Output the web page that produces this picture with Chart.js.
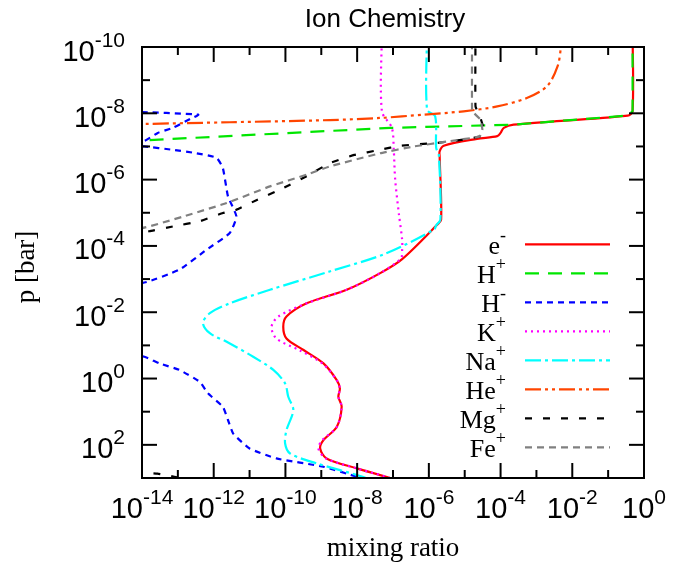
<!DOCTYPE html>
<html><head><meta charset="utf-8">
<script src="https://cdn.jsdelivr.net/npm/chart.js@4/dist/chart.umd.min.js"></script>
<style>html,body{margin:0;padding:0;background:#fff;}#wrap{width:685px;height:567px;}</style>
</head><body>
<div id="wrap"><canvas id="c" width="685" height="567"></canvas></div>
<script>
// ---- axis ticks ----
const xMajorTicks = [1e-14, 1e-12, 1e-10, 1e-8, 1e-6, 1e-4, 1e-2, 1e0];
const xMinorTicks = [1e-13, 1e-11, 1e-9, 1e-7, 1e-5, 1e-3, 1e-1];
const yMajorTicks = [1e-10, 1e-8, 1e-6, 1e-4, 1e-2, 1e0, 1e2];
const yMinorTicks = [1e-9, 1e-7, 1e-5, 1e-3, 1e-1, 1e1, 1e3];
const xTickLabels = ['10^-14', '10^-12', '10^-10', '10^-8', '10^-6', '10^-4', '10^-2', '10^0'];
const yTickLabels = ['10^-10', '10^-8', '10^-6', '10^-4', '10^-2', '10^0', '10^2'];

// ---- species (legend) ----
const speciesBase = ['e', 'H', 'H', 'K', 'Na', 'He', 'Mg', 'Fe'];
const speciesCharge = ['-', '+', '-', '+', '+', '+', '+', '+'];

// ---- series: mixing ratio (x) vs pressure in bar (y) ----
const eMinusX = [4.8e-1, 4.8e-1, 3.5e-1, 2.3e-4, 1.23e-4, 1.0e-4, 8.1e-5, 2.2e-5, 2.6e-6, 2.0e-6, 2.0e-6, 2.2e-6, 1.7e-6, 1.8e-7, 4.4e-8, 5.1e-9, 3.9e-10, 1.07e-10, 8.7e-11, 1.07e-10, 3.2e-10, 1.15e-9, 2.7e-9, 3.3e-9, 3.0e-9, 3.7e-9, 2.7e-9, 1.15e-9, 9.3e-10, 1.4e-9, 9.8e-9, 8.3e-8, 1.26e-7];
const eMinusP = [3.2e-11, 8.7e-9, 1.17e-8, 2.2e-8, 2.75e-8, 3.9e-8, 4.9e-8, 5.9e-8, 9.5e-8, 1.4e-7, 2.0e-7, 1.6e-5, 2.3e-5, 2.5e-4, 6.6e-4, 2.1e-3, 5.4e-3, 1.35e-2, 2.75e-2, 6.2e-2, 1.38e-1, 3.5e-1, 1.12, 2.0, 3.55, 7.1, 29, 72, 129, 257, 513, 1000, 1260];

const hPlusX = [4.8e-1, 4.8e-1, 3.5e-1, 2.3e-4, 8.3e-8, 1.0e-14, 1.0e-15];
const hPlusP = [3.2e-11, 8.7e-9, 1.17e-8, 2.2e-8, 2.75e-8, 6.6e-8, 7.2e-8];

const hMinusX = [1e-20, 1e-20, 6.3e-15, 3.7e-13, 2.2e-13, 7.2e-14, 2.75e-14, 1.17e-14, 5.0e-15, 1e-20, 5.0e-15, 1.17e-14, 7.2e-14, 3.3e-13, 1.2e-12, 1.8e-12, 2.5e-12, 4.3e-12, 2.8e-12, 6.3e-13, 1.1e-13, 1.05e-14, 1e-20, 1e-20, 6.3e-15, 1.17e-14, 3.1e-14, 1.1e-13, 4.1e-13, 6.9e-13, 1.8e-12, 2.5e-12, 3.5e-12, 1.0e-11, 5.6e-11, 1.15e-9, 1.0e-8, 1.6e-8];
const hMinusP = [3.2e-11, 8.7e-9, 9.1e-9, 1.1e-8, 1.48e-8, 2.75e-8, 3.9e-8, 6.8e-8, 8.1e-8, 8.9e-8, 9.8e-8, 1.0e-7, 1.26e-7, 1.6e-7, 2.2e-7, 4.5e-7, 3.2e-6, 1.3e-5, 4.1e-5, 1.3e-4, 5.2e-4, 1.3e-3, 3.2e-3, 1.6e-1, 2.1e-1, 2.2e-1, 3.5e-1, 5.5e-1, 1.26, 2.8, 7.1, 17.8, 46, 129, 257, 457, 933, 1260];

const kPlusX = [4.9e-8, 4.9e-8, 9.3e-8, 1.05e-7, 1.15e-7, 1.45e-7, 1.8e-7, 1.8e-7, 1.66e-7, 4.4e-8, 5.1e-9, 3.9e-10, 6.3e-11, 4.1e-11, 5.6e-11, 2.4e-10, 1.07e-9, 2.7e-9, 3.3e-9, 3.0e-9, 3.7e-9, 2.7e-9, 1.07e-9, 8.3e-10, 1.35e-9, 9.8e-9, 8.3e-8, 1.26e-7];
const kPlusP = [3.2e-11, 8.7e-9, 2.75e-8, 1.26e-7, 1.0e-6, 1.02e-5, 6.6e-5, 1.3e-4, 2.4e-4, 6.6e-4, 2.1e-3, 5.4e-3, 1.35e-2, 2.75e-2, 6.2e-2, 1.38e-1, 3.5e-1, 1.12, 2.0, 3.55, 7.1, 29, 72, 129, 257, 513, 1000, 1260];

const naPlusX = [8.9e-7, 8.9e-7, 1.5e-6, 1.6e-6, 1.9e-6, 2.1e-6, 1.6e-6, 1.4e-6, 6.3e-8, 1.7e-9, 3.7e-11, 2.8e-12, 7.8e-13, 5.0e-13, 7.8e-13, 2.3e-12, 1.26e-11, 4.6e-11, 9.8e-11, 1.2e-10, 1.66e-10, 1.07e-10, 9.8e-11, 1.35e-10, 7.4e-10, 1.5e-8, 2.5e-8];
const naPlusP = [3.2e-11, 7.8e-9, 1.23e-8, 1.1e-7, 1.8e-7, 1.6e-5, 2.4e-5, 3.2e-5, 1.7e-4, 5.9e-4, 2.1e-3, 5.4e-3, 1.07e-2, 2.1e-2, 4.3e-2, 7.8e-2, 2.2e-1, 5.5e-1, 1.41, 3.55, 8.9, 36, 91, 182, 363, 933, 1260];

const hePlusX = [5.0e-3, 4.8e-3, 3.9e-3, 2.0e-3, 5.6e-4, 8.1e-5, 9.3e-6, 7.1e-7, 4.4e-8, 1.7e-9, 2.8e-12, 1.0e-14, 1.0e-15];
const hePlusP = [3.2e-11, 1.0e-10, 3.8e-10, 1.5e-9, 3.4e-9, 6.2e-9, 8.7e-9, 1.1e-8, 1.38e-8, 1.6e-8, 1.86e-8, 2.1e-8, 2.2e-8];

const mgPlusX = [2.0e-5, 2.0e-5, 2.75e-5, 3.4e-5, 2.75e-5, 9.3e-6, 1.7e-6, 1.6e-7, 4.4e-8, 8.3e-9, 1.7e-9, 3.9e-10, 7.1e-11, 1.6e-11, 4.3e-12, 1.8e-12, 4.1e-13, 7.2e-14, 1.6e-14, 6.3e-15, 1e-20, 1e-20, 5.0e-15, 2.7e-14, 7.1e-14, 2.5e-13];
const mgPlusP = [3.2e-11, 6.2e-9, 1.38e-8, 3.1e-8, 4.9e-8, 6.2e-8, 7.8e-8, 9.5e-8, 1.26e-7, 1.8e-7, 3.2e-7, 7.9e-7, 2.0e-6, 4.1e-6, 8.1e-6, 1.02e-5, 1.8e-5, 2.6e-5, 3.6e-5, 4.8e-5, 1e-4, 631, 661, 741, 891, 1260];

const fePlusX = [1.6e-5, 1.6e-5, 1.8e-5, 2.75e-5, 3.1e-5, 2.6e-5, 3.2e-6, 3.8e-7, 4.4e-8, 1.7e-9, 3.9e-10, 3.7e-11, 2.3e-12, 1.4e-13, 1.0e-14, 1e-20];
const fePlusP = [3.2e-11, 7.8e-9, 9.8e-9, 1.55e-8, 3.1e-8, 5.0e-8, 7.1e-8, 1.0e-7, 1.6e-7, 4.0e-7, 7.1e-7, 1.6e-6, 5.1e-6, 1.3e-5, 2.9e-5, 6.3e-5];

const seriesX = [eMinusX, hPlusX, hMinusX, kPlusX, naPlusX, hePlusX, mgPlusX, fePlusX];
const seriesP = [eMinusP, hPlusP, hMinusP, kPlusP, naPlusP, hePlusP, mgPlusP, fePlusP];

// ---- styles ----
const colors = ['#ff0000', '#00e600', '#0000ff', '#ff00ff', '#00ffff', '#ff4500', '#000000', '#808080'];
const dashes = [[], [14, 9], [6, 5], [2, 4], [16, 4, 3, 4], [16, 4, 3, 4, 3, 4], [7, 11], [7, 5]];
const tensions = [0.3, 0, 0.15, 0.3, 0.3, 0.3, 0.1, 0.1];
const supMap = {'-': '\u207B', '+': '\u207A'};

const datasets = speciesBase.map((name, i) => ({
  label: name + supMap[speciesCharge[i]],
  data: seriesX[i].map((v, k) => ({x: v, y: seriesP[i][k]})),
  borderColor: colors[i],
  backgroundColor: colors[i],
  borderDash: dashes[i],
  borderWidth: 2.2,
  pointRadius: 0,
  fill: false,
  tension: tensions[i],
  order: speciesBase.length - i
}));

function splitPow(s) { const p = s.split('^'); return {base: p[0], exp: p[1]}; }
const BASE_FONT = '29px "Liberation Sans", Arial, sans-serif';
const EXP_FONT = '21px "Liberation Sans", Arial, sans-serif';
const SERIF = '"Liberation Serif", "Times New Roman", serif';

function drawPow(ctx, label, x, baseline, align) {
  const {base, exp} = splitPow(label);
  ctx.font = BASE_FONT; const wb = ctx.measureText(base).width;
  ctx.font = EXP_FONT; const we = ctx.measureText(exp).width;
  const total = wb + we;
  let x0 = align === 'center' ? x - total / 2 : x - total;
  ctx.textAlign = 'left'; ctx.textBaseline = 'alphabetic'; ctx.fillStyle = '#000';
  ctx.font = BASE_FONT; ctx.fillText(base, x0, baseline);
  ctx.font = EXP_FONT; ctx.fillText(exp, x0 + wb, baseline - 14);
}

const gnuFrame = {
  id: 'gnuFrame',
  afterDraw(chart) {
    const {ctx, chartArea: a, scales: {x, y}} = chart;
    ctx.save();
    ctx.strokeStyle = '#000'; ctx.lineWidth = 2; ctx.setLineDash([]);
    const seg = (x1, y1, x2, y2) => { ctx.beginPath(); ctx.moveTo(x1, y1); ctx.lineTo(x2, y2); ctx.stroke(); };
    xMajorTicks.forEach(v => { const px = x.getPixelForValue(v); seg(px, a.bottom, px, a.bottom - 15); seg(px, a.top, px, a.top + 15); });
    xMinorTicks.forEach(v => { const px = x.getPixelForValue(v); seg(px, a.bottom, px, a.bottom - 8); seg(px, a.top, px, a.top + 8); });
    yMajorTicks.forEach(v => { const py = y.getPixelForValue(v); seg(a.left, py, a.left + 15, py); seg(a.right, py, a.right - 15, py); });
    yMinorTicks.forEach(v => { const py = y.getPixelForValue(v); seg(a.left, py, a.left + 8, py); seg(a.right, py, a.right - 8, py); });
    ctx.strokeRect(a.left, a.top, a.right - a.left, a.bottom - a.top);

    // tick labels
    xMajorTicks.forEach((v, i) => drawPow(ctx, xTickLabels[i], x.getPixelForValue(v), a.bottom + 40, 'center'));
    yMajorTicks.forEach((v, i) => drawPow(ctx, yTickLabels[i], a.left - 17, y.getPixelForValue(v) + 13.5, 'right'));

    // axis titles
    ctx.fillStyle = '#000';
    ctx.font = '27px ' + SERIF;
    ctx.textAlign = 'center'; ctx.textBaseline = 'middle';
    ctx.fillText('mixing ratio', (a.left + a.right) / 2, 549);
    ctx.save(); ctx.translate(27, 267); ctx.rotate(-Math.PI / 2);
    ctx.fillText('p [bar]', 0, 0); ctx.restore();

    // legend
    const rowTop = a.top + 197.3, rowStep = 29, textRight = 506, lx1 = 525, lx2 = 610;
    chart.data.datasets.forEach((ds, i) => {
      const yy = rowTop + i * rowStep;
      ctx.font = '26px ' + SERIF;
      const wb = ctx.measureText(speciesBase[i]).width;
      ctx.font = '18px ' + SERIF;
      const ws = ctx.measureText(speciesCharge[i]).width;
      const x0 = textRight - wb - ws;
      ctx.textAlign = 'left'; ctx.textBaseline = 'alphabetic'; ctx.fillStyle = '#000';
      ctx.font = '26px ' + SERIF;
      ctx.fillText(speciesBase[i], x0, yy + 10);
      ctx.font = '18px ' + SERIF;
      ctx.fillText(speciesCharge[i], x0 + wb, yy - 3);
      ctx.strokeStyle = ds.borderColor; ctx.lineWidth = 2.2; ctx.setLineDash(ds.borderDash);
      seg(lx1, yy, lx2, yy);
      ctx.setLineDash([]);
    });
    ctx.restore();
  }
};

new Chart(document.getElementById('c'), {
  type: 'line',
  data: {datasets},
  options: {
    responsive: false,
    animation: false,
    devicePixelRatio: 1,
    layout: {padding: {left: 126, right: 41, top: 0, bottom: 0}},
    plugins: {
      legend: {display: false},
      tooltip: {enabled: false},
      title: {
        display: true, text: 'Ion Chemistry', color: '#000',
        font: {family: '"Liberation Sans", Arial, sans-serif', size: 26, weight: 'normal', lineHeight: 1.2},
        padding: {top: 4, bottom: 11.8}
      }
    },
    scales: {
      x: {
        type: 'logarithmic', min: 1e-14, max: 1, position: 'bottom',
        grid: {display: false, drawTicks: false}, border: {display: false}, ticks: {display: false},
        afterFit: s => { s.height = 89; }
      },
      y: {
        type: 'logarithmic', min: 1e-10, max: 1e3, reverse: true, position: 'left',
        grid: {display: false, drawTicks: false}, border: {display: false}, ticks: {display: false},
        afterFit: s => { s.width = 16; }
      }
    }
  },
  plugins: [gnuFrame]
});
</script>
</body></html>
